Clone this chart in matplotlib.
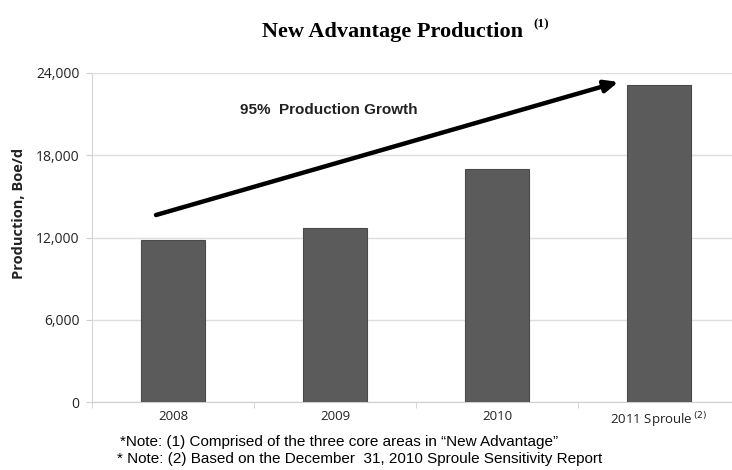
import matplotlib.pyplot as plt

# Data
categories = ["2008", "2009", "2010", "2011 Sproule$^{\\,(2)}$"]
production = [11800, 12700, 17000, 23100]
y_ticks = [0, 6000, 12000, 18000, 24000]
y_tick_labels = ["0", "6,000", "12,000", "18,000", "24,000"]

fig = plt.figure(figsize=(7.32, 4.7), dpi=100)
ax = fig.add_axes([92 / 732, 68 / 470, 1 - 92 / 732, 329 / 470])

x = list(range(len(categories)))
ax.bar(x, production, width=0.4, color="#5b5b5b", edgecolor="#4a4a4a", linewidth=0.8, zorder=3)

ax.set_xlim(-0.5, -0.5 + 640 / 162)
ax.set_ylim(0, 24000)
ax.set_yticks(y_ticks)
ax.set_yticklabels(y_tick_labels, fontsize=10, family="Open Sans", color="#222222")
ax.set_xticks(x)
ax.set_xticklabels(categories, fontsize=9.5, family="Open Sans", color="#222222")
ax.tick_params(axis="x", length=0, pad=6)
ax.set_xticks([i + 0.5 for i in x[:-1]] + [-0.5], minor=True)
ax.tick_params(axis="x", which="minor", length=4, color="#cfcfcf")
ax.tick_params(axis="y", length=4, color="#cfcfcf", pad=5)

ax.grid(axis="y", color="#dedede", linewidth=1, zorder=0)
for s in ["top", "right"]:
    ax.spines[s].set_visible(False)
ax.spines["left"].set_color("#d6d6d6")
ax.spines["bottom"].set_color("#cfcfcf")

ax.set_ylabel("Production, Boe/d", fontsize=10.5, fontweight="bold", family="Open Sans",
              color="#222222")
ax.yaxis.set_label_coords(-0.103, 0.574)

# growth arrow
ax.annotate("", xy=(2.75, 23350), xytext=(-0.105, 13640),
            arrowprops=dict(arrowstyle="-|>,head_length=0.8,head_width=0.35",
                            color="black", lw=3.2, shrinkA=0, shrinkB=0), zorder=5)
ax.text(0.96, 21300, "95%  Production Growth", fontsize=11, fontweight="bold",
        family="Liberation Sans", color="#222222", ha="center", va="center")

# title with separate superscript
fig.text(392 / 732, 1 - 37 / 470, "New Advantage Production",
         fontsize=16, fontweight="bold", family="Liberation Serif", ha="center", va="baseline")
fig.text(533 / 732, 1 - 27 / 470, "(1)",
         fontsize=9.5, fontweight="bold", family="Liberation Serif", ha="left", va="baseline")

fig.text(120 / 732, 1 - 442 / 470, "*Note: (1) Comprised of the three core areas in \u201cNew Advantage\u201d",
         fontsize=11, family="Liberation Sans", ha="left", va="center")
fig.text(117 / 732, 1 - 459 / 470, "* Note: (2) Based on the December  31, 2010 Sproule Sensitivity Report",
         fontsize=11, family="Liberation Sans", ha="left", va="center")

fig.savefig("out.png", dpi=100)
